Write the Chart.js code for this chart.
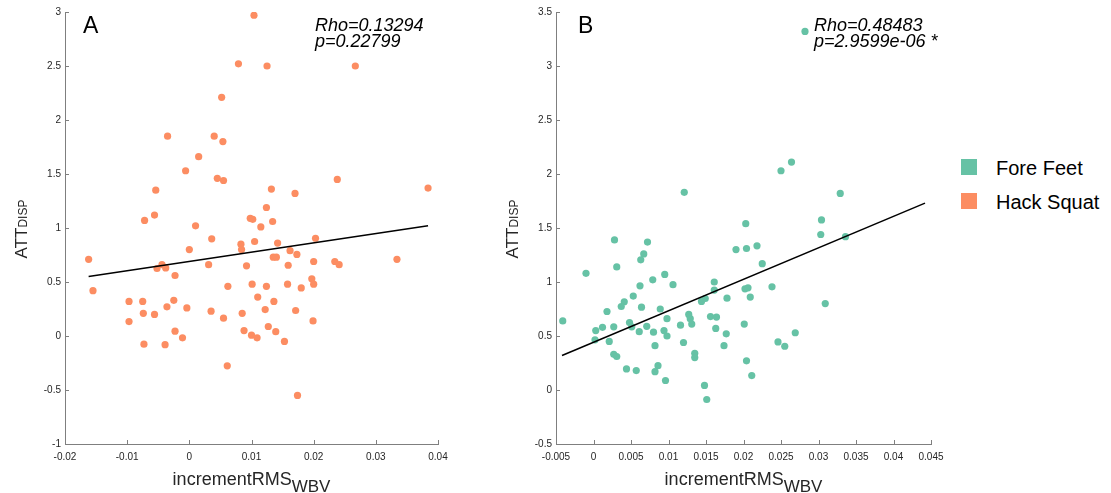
<!DOCTYPE html>
<html><head><meta charset="utf-8">
<script src="https://cdn.jsdelivr.net/npm/chart.js@4.4.1/dist/chart.umd.min.js"></script>
<style>
html,body{margin:0;padding:0;background:#fff;width:1111px;height:493px;overflow:hidden;}
#wrap{position:relative;width:1111px;height:493px;}
canvas{position:absolute;top:0;}
#cA{left:0;} #cB{left:480px;}
.leg{position:absolute;left:961px;height:20px;font:20px "Liberation Sans",Arial,sans-serif;color:#000;line-height:20px;white-space:nowrap;}
.sw{position:absolute;left:0;top:1.5px;width:16px;height:16px;}
.lt{position:absolute;left:35px;top:0;}
</style></head>
<body><div id="wrap">
<canvas id="cA" width="480" height="493"></canvas>
<canvas id="cB" width="480" height="493"></canvas>
<div class="leg" style="top:157.5px"><span class="sw" style="background:#66c2a5"></span><span class="lt">Fore Feet</span></div>
<div class="leg" style="top:191.5px"><span class="sw" style="background:#fc8d62"></span><span class="lt">Hack Squat</span></div>
</div>
<script>
// ---- data ----
const hackX = [0.0104,0.0079,0.0125,0.0267,0.0052,-0.0035,0.0040,0.0054,0.0015,-0.0006,0.0045,0.0055,0.0238,-0.0054,0.0132,0.0170,0.0384,0.0124,-0.0072,-0.0056,0.0098,0.0102,0.0134,0.0115,0.0010,0.0036,0.0083,0.0105,0.0142,0.0203,
  0.0084,0.0000,0.0162,0.0173,0.0135,0.0140,-0.0162,0.0200,0.0234,0.0241,0.0334,-0.0044,-0.0052,-0.0038,0.0031,0.0092,0.0159,-0.0023,-0.0155,0.0062,0.0101,0.0124,0.0158,0.0180,0.0197,0.0200,0.0110,-0.0097,-0.0075,-0.0025,0.0136,-0.0036,-0.0004,0.0122,0.0171,-0.0074,-0.0056,0.0035,0.0085,-0.0097,0.0055,0.0199,0.0127,-0.0023,0.0088,0.0139,-0.0011,0.0100,0.0109,0.0153,-0.0073,-0.0039,0.0061,0.0174];
const hackY = [2.97,2.52,2.50,2.50,2.21,1.85,1.85,1.80,1.66,1.53,1.46,1.44,1.45,1.35,1.36,1.32,1.37,1.19,1.07,1.12,1.09,1.08,1.06,1.01,1.02,0.90,0.85,0.875,0.86,0.905,
  0.80,0.80,0.79,0.755,0.73,0.73,0.71,0.69,0.69,0.66,0.71,0.66,0.625,0.63,0.66,0.65,0.655,0.56,0.42,0.46,0.48,0.46,0.48,0.445,0.53,0.48,0.36,0.32,0.32,0.33,0.32,0.27,0.26,0.245,0.236,0.21,0.20,0.23,0.21,0.134,0.165,0.14,0.088,0.045,0.05,0.04,-0.017,0.008,-0.017,-0.05,-0.076,-0.08,-0.276,-0.55];
const foreX = [0.0282,0.0121,0.0250,0.0264,0.0329,0.0203,0.0304,0.0303,0.0336,0.0028,0.0072,0.0190,0.0204,0.0218,0.0067,0.0063,0.0031,0.0225,-0.0010,0.0095,0.0079,0.0106,0.0161,0.0062,0.0161,0.0202,0.0206,0.0238,0.0053,0.0178,0.0209,0.0149,0.0144,0.0041,0.0037,0.0309,0.0018,0.0064,0.0089,0.0127,0.0129,0.0131,-0.0041,0.0048,0.0051,0.0098,0.0156,0.0164,0.0012,0.0027,0.0071,0.0116,0.0201,0.0003,0.0061,0.0080,0.0094,0.0098,0.0163,0.0177,0.0269,0.0002,0.0021,0.0120,0.0246,0.0082,0.0174,0.0255,0.0027,0.0031,0.0135,0.0135,0.0204,0.0044,0.0057,0.0086,0.0082,0.0211,0.0096,0.0148,0.0151];
const foreY = [3.32,1.83,2.03,2.11,1.82,1.54,1.575,1.44,1.42,1.39,1.37,1.30,1.31,1.335,1.26,1.205,1.14,1.17,1.08,1.07,1.02,0.975,1.00,0.965,0.925,0.937,0.946,0.955,0.87,0.85,0.86,0.847,0.82,0.817,0.773,0.80,0.727,0.767,0.75,0.70,0.66,0.61,0.64,0.625,0.585,0.66,0.68,0.675,0.58,0.585,0.59,0.60,0.61,0.55,0.54,0.535,0.55,0.50,0.57,0.52,0.53,0.465,0.45,0.44,0.445,0.41,0.41,0.405,0.33,0.31,0.34,0.30,0.27,0.195,0.18,0.225,0.17,0.134,0.088,0.042,-0.088];
const fitAX = [-0.0162, 0.0384], fitAY = [0.55, 1.02];
const fitBX = [-0.0042, 0.0442], fitBY = [0.32, 1.73];
const xTicksA = [-0.02,-0.01,0,0.01,0.02,0.03,0.04];
const yTicksA = [-1,-0.5,0,0.5,1,1.5,2,2.5,3];
const xTicksB = [-0.005,0,0.005,0.01,0.015,0.02,0.025,0.03,0.035,0.04,0.045];
const yTicksB = [-0.5,0,0.5,1,1.5,2,2.5,3,3.5];

const AXIS = '#7f7f7f', TXT = '#262626';
const FONT = '"Liberation Sans", Arial, sans-serif';
const pts = (xs, ys) => xs.map((v,i)=>({x:v, y:ys[i]}));
const fmt = v => String(Math.round(v*100000)/100000);

function drawSub(ctx, main, sub, mainSize, subSize, dy, cx, baseY){
  ctx.font = mainSize+'px '+FONT; const w1 = ctx.measureText(main).width;
  ctx.font = subSize+'px '+FONT; const w2 = ctx.measureText(sub).width;
  const x0 = cx - (w1+w2)/2;
  ctx.textAlign='left'; ctx.textBaseline='alphabetic';
  ctx.font = mainSize+'px '+FONT; ctx.fillText(main, x0, baseY);
  ctx.font = subSize+'px '+FONT; ctx.fillText(sub, x0+w1, baseY+dy);
}

const decor = {
  id:'decor',
  afterDraw(chart, args, o){
    const {ctx, chartArea:ca, scales:{x,y}} = chart;
    ctx.save();
    ctx.strokeStyle = AXIS; ctx.lineWidth = 1;
    ctx.beginPath();
    x.ticks.forEach(t=>{const px=Math.round(x.getPixelForValue(t.value))+0.5; ctx.moveTo(px, ca.bottom); ctx.lineTo(px, ca.bottom-4);});
    y.ticks.forEach(t=>{const py=Math.round(y.getPixelForValue(t.value))+0.5; ctx.moveTo(ca.left, py); ctx.lineTo(ca.left+4, py);});
    ctx.stroke();
    ctx.fillStyle = '#000';
    ctx.textAlign='left'; ctx.textBaseline='alphabetic';
    ctx.font = '23px '+FONT;
    ctx.fillText(o.letter, o.letterX, 33);
    ctx.font = 'italic 18px '+FONT;
    ctx.fillText(o.rho, o.statX, 31);
    ctx.fillText(o.p, o.statX, 47);
    // x title
    ctx.fillStyle = TXT;
    drawSub(ctx, 'incrementRMS', 'WBV', 18, 17, 6.5, (ca.left+ca.right)/2, 485);
    // y title
    ctx.save();
    ctx.translate(ca.left-38.5, (ca.top+ca.bottom)/2+1);
    ctx.rotate(-Math.PI/2);
    drawSub(ctx, 'ATT', 'DISP', 17, 12, 0.5, 0, 0);
    ctx.restore();
    ctx.restore();
  }
};

function makeChart(id, scatter, color, fitX, fitY, xT, yT, xr, yr, yW, padR, deco){
  const tickFont = {family: FONT, size: 10};
  return new Chart(document.getElementById(id), {
    type:'scatter',
    data:{datasets:[
      {data: pts(fitX, fitY), showLine:true, borderColor:'#000', borderWidth:1.5, pointRadius:0, fill:false},
      {data: scatter, backgroundColor: color, borderColor: color, borderWidth:0, pointRadius:3.6, pointHoverRadius:3.6}
    ]},
    options:{
      responsive:false, animation:false, devicePixelRatio:1,
      layout:{padding:{top:12, right:padR, left:0, bottom:0}},
      plugins:{legend:{display:false}, tooltip:{enabled:false}, decor: deco},
      scales:{
        x:{type:'linear', min:xr[0], max:xr[1],
          grid:{display:false, drawTicks:false},
          border:{display:true, color:AXIS, width:1},
          afterBuildTicks:s=>{s.ticks = xT.map(v=>({value:v}));},
          afterFit:s=>{s.height=49; s.paddingLeft=0; s.paddingRight=0; s.paddingTop=0; s.paddingBottom=0;},
          ticks:{autoSkip:false, maxRotation:0, padding:7, color:TXT, font:tickFont, callback:v=>fmt(v)}},
        y:{type:'linear', min:yr[0], max:yr[1],
          grid:{display:false, drawTicks:false},
          border:{display:true, color:AXIS, width:1},
          afterBuildTicks:s=>{s.ticks = yT.map(v=>({value:v}));},
          afterFit:s=>{s.width=yW; s.paddingLeft=0; s.paddingRight=0; s.paddingTop=0; s.paddingBottom=0;},
          ticks:{autoSkip:false, padding:4, color:TXT, font:tickFont, callback:v=>fmt(v)}}
      }
    },
    plugins:[decor]
  });
}

makeChart('cA', pts(hackX, hackY), '#fc8d62', fitAX, fitAY, xTicksA, yTicksA, [-0.02,0.04], [-1,3], 65, 42,
  {letter:'A', letterX:83, statX:315, rho:'Rho=0.13294', p:'p=0.22799'});
makeChart('cB', pts(foreX, foreY), '#66c2a5', fitBX, fitBY, xTicksB, yTicksB, [-0.005,0.045], [-0.5,3.5], 76, 29,
  {letter:'B', letterX:98, statX:334, rho:'Rho=0.48483', p:'p=2.9599e-06 *'});
</script>
</body></html>
